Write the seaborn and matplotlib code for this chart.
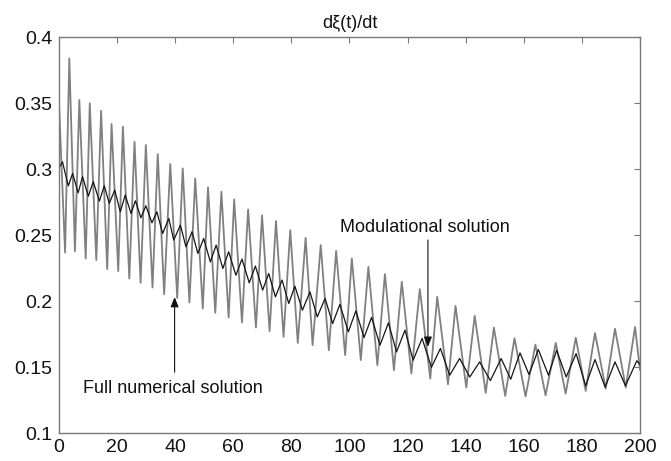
import matplotlib
matplotlib.use("Agg")
import matplotlib.pyplot as plt
import numpy as np
import pandas as pd
import seaborn as sns

# ---- data (extrema of each oscillation) ----
t_full = [0, 2.1, 3.55, 5.5, 7.0, 9.2, 10.6, 12.85, 14.5, 16.6,
          18.1, 20.4, 22.0, 24.2, 26.0, 28.1, 29.9, 32.2, 34.0, 36.2,
          38.3, 40.7, 42.6, 44.9, 46.9, 49.5, 51.3, 53.8, 55.9, 58.4,
          60.3, 63.0, 65.1, 67.8, 69.9, 72.5, 74.7, 77.3, 79.6, 82.2,
          84.9, 87.3, 90.1, 92.9, 95.4, 98.5, 100.8, 103.9, 106.5, 109.6,
          112.2, 115.3, 118.0, 121.3, 124.2, 127.8, 130.2, 133.9, 136.5, 140.2,
          143.1, 146.9, 149.7, 153.6, 156.8, 160.6, 164.0, 167.5, 171.0, 174.4,
          177.9, 181.3, 184.5, 188.2, 191.4, 195.1, 198.3, 200]
v_full = [0.35, 0.237, 0.384, 0.238, 0.3525, 0.2325, 0.350, 0.2312, 0.3444, 0.2244,
          0.3343, 0.2229, 0.3323, 0.2173, 0.3209, 0.214, 0.3184, 0.2105, 0.3115, 0.2054,
          0.304, 0.2026, 0.3007, 0.1991, 0.2931, 0.1946, 0.2863, 0.1913, 0.283, 0.1878,
          0.2772, 0.184, 0.2696, 0.1802, 0.2651, 0.1774, 0.2608, 0.1731, 0.2539, 0.1685,
          0.2481, 0.1668, 0.2426, 0.163, 0.2382, 0.1592, 0.2325, 0.1555, 0.2261, 0.1516,
          0.2206, 0.1478, 0.2148, 0.1453, 0.2093, 0.1415, 0.2034, 0.1372, 0.1965, 0.1347,
          0.189, 0.1306, 0.1801, 0.1283, 0.172, 0.128, 0.1672, 0.1288, 0.1685, 0.1301,
          0.1724, 0.1321, 0.176, 0.1339, 0.1792, 0.1347, 0.1806, 0.148]

t_mod = [0, 1.2, 3.2, 4.7, 6.6, 8.1, 10.1, 11.8, 13.9, 15.6,
         17.3, 19.2, 21.1, 22.8, 24.8, 26.3, 28.2, 29.9, 32.0, 33.7,
         35.7, 37.8, 39.5, 41.8, 43.7, 45.8, 47.8, 49.8, 52.1, 54.1,
         56.4, 58.4, 60.9, 63.0, 65.5, 67.6, 70.1, 72.2, 74.5, 76.8,
         79.1, 81.2, 83.8, 86.4, 88.9, 91.6, 94.2, 96.7, 99.6, 102.2,
         105.0, 107.6, 110.5, 113.4, 116.2, 119.1, 121.9, 125.0, 128.2, 131.3,
         134.5, 137.9, 141.4, 144.8, 148.5, 152.2, 155.5, 158.7, 161.8, 165.0,
         168.5, 171.3, 174.6, 178.0, 181.3, 184.5, 188.0, 191.4, 195.0, 198.9, 200]
v_mod = [0.301, 0.3057, 0.2875, 0.2969, 0.2822, 0.2944, 0.2797, 0.2906, 0.2759, 0.2875,
         0.2742, 0.2843, 0.2678, 0.2805, 0.2666, 0.2762, 0.2633, 0.2724, 0.2595, 0.2678,
         0.2514, 0.2628, 0.2464, 0.2577, 0.2413, 0.2527, 0.2363, 0.2476, 0.2299, 0.2426,
         0.2249, 0.2375, 0.2198, 0.232, 0.214, 0.2267, 0.2085, 0.2211, 0.2034, 0.2161,
         0.1984, 0.2115, 0.1933, 0.2072, 0.1882, 0.2022, 0.1832, 0.1977, 0.1769, 0.1928,
         0.1726, 0.1878, 0.1668, 0.1837, 0.1617, 0.1782, 0.1554, 0.1719, 0.150, 0.1643,
         0.144, 0.1567, 0.1427, 0.1541, 0.140, 0.1567, 0.141, 0.1609, 0.1445, 0.1635,
         0.144, 0.163, 0.1427, 0.1604, 0.136, 0.1559, 0.135, 0.1541, 0.136, 0.155, 0.152]

x_ticks = [0, 20, 40, 60, 80, 100, 120, 140, 160, 180, 200]
y_ticks = [0.1, 0.15, 0.2, 0.25, 0.3, 0.35, 0.4]
y_ticklabels = ["0.1", "0.15", "0.2", "0.25", "0.3", "0.35", "0.4"]
title_text = "dξ(t)/dt"
label_mod = "Modulational solution"
label_full = "Full numerical solution"

# ---- style ----
sns.set_theme(style="white")
plt.rcParams['font.family'] = ['Liberation Sans', 'DejaVu Sans']

fig = plt.figure(figsize=(6.71, 4.61), dpi=100)
ax = fig.add_axes([0.0879, 0.060, 0.8659, 0.859])

df_full = pd.DataFrame({"t": t_full, "v": v_full})
df_mod = pd.DataFrame({"t": t_mod, "v": v_mod})

sns.lineplot(data=df_full, x="t", y="v", ax=ax, color="#808080", lw=1.3,
             estimator=None, sort=False)
sns.lineplot(data=df_mod, x="t", y="v", ax=ax, color="#151515", lw=0.9,
             estimator=None, sort=False)

ax.set_xlim(0, 200)
ax.set_ylim(0.1, 0.4)
ax.set_xticks(x_ticks)
ax.set_xticklabels([str(x) for x in x_ticks])
ax.set_yticks(y_ticks)
ax.set_yticklabels(y_ticklabels)
ax.set_xlabel("")
ax.set_ylabel("")

for s in ax.spines.values():
    s.set_visible(True)
    s.set_color("#7a7a7a")
    s.set_linewidth(1.0)

ax.tick_params(axis="both", direction="in", top=True, right=True, length=4,
               width=0.8, color="#7a7a7a", labelsize=14, labelcolor="#111111")
ax.tick_params(axis="y", pad=5)
ax.tick_params(axis="x", pad=4)

ax.set_title(title_text, fontsize=13, pad=7, color="#111111")

# annotations
ax.text(96.7, 0.2562, label_mod, fontsize=13, va="center", ha="left", color="#111111")
ax.annotate("", xy=(127.0, 0.1655), xytext=(127.0, 0.2465),
            arrowprops=dict(arrowstyle="-|>,head_length=0.5,head_width=0.2",
                            color="#111111", lw=0.8, shrinkA=0, shrinkB=0))
ax.text(8.3, 0.1342, label_full, fontsize=13, va="center", ha="left", color="#111111")
ax.annotate("", xy=(39.8, 0.2033), xytext=(39.8, 0.1463),
            arrowprops=dict(arrowstyle="-|>,head_length=0.5,head_width=0.2",
                            color="#111111", lw=0.8, shrinkA=0, shrinkB=0))

fig.savefig("out.png", dpi=100)
